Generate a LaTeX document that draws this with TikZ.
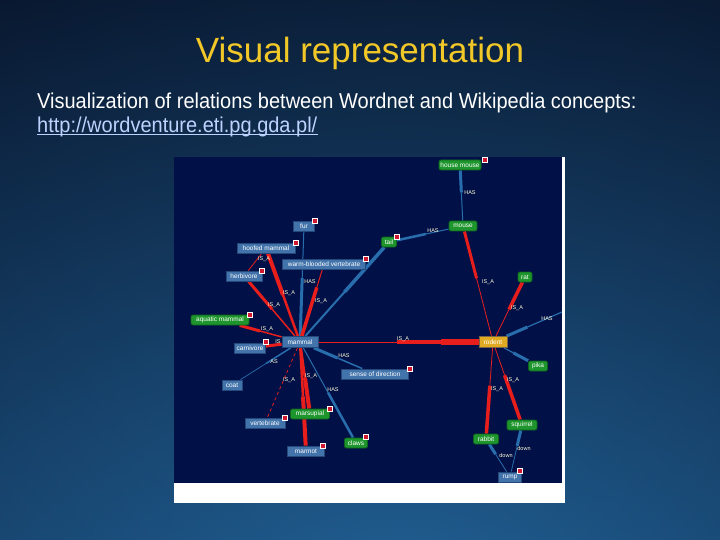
\documentclass[tikz,border=0pt]{standalone}
\usepackage{fontspec}
\setmainfont{Liberation Sans}
\newfontfamily\narrowsans[FakeStretch=0.93]{Liberation Sans}
\usetikzlibrary{calc}
\definecolor{bgtop}{RGB}{9,24,48}
\definecolor{bgbot}{RGB}{30,90,142}
\definecolor{bglight}{RGB}{34,100,152}
\definecolor{titlecol}{RGB}{242,200,40}
\definecolor{linkcol}{RGB}{190,210,255}
\definecolor{shotbg}{RGB}{2,16,72}
\definecolor{nblue}{RGB}{66,115,170}
\definecolor{nblueb}{RGB}{36,72,122}
\definecolor{ngreen}{RGB}{30,150,45}
\definecolor{ngreenb}{RGB}{14,100,28}
\definecolor{norange}{RGB}{224,170,34}
\definecolor{norangeb}{RGB}{120,100,70}
\definecolor{ered}{RGB}{232,30,28}
\definecolor{eblue}{RGB}{40,110,172}
\definecolor{badgered}{RGB}{208,24,48}
\definecolor{lblcol}{RGB}{255,255,215}
\pgfdeclarelayer{back}
\pgfdeclarelayer{edges}
\pgfsetlayers{back,edges,main}
\tikzset{
  bnode/.style={fill=nblue, draw=nblueb, line width=0.8pt, text=white,
    font=\fontsize{6.5}{7}\selectfont, minimum height=10pt, minimum width=#1,
    inner sep=0.5pt},
  gnode/.style={fill=ngreen, draw=ngreenb, line width=0.8pt, text=white,
    rounded corners=2pt, font=\fontsize{6.5}{7}\selectfont, minimum height=10pt,
    minimum width=#1, inner sep=0.5pt},
  onode/.style={fill=norange, draw=norangeb, line width=0.8pt, text=white,
    font=\fontsize{6.5}{7}\selectfont, minimum height=11pt, minimum width=#1,
    inner sep=0.5pt},
  badge/.style={fill=badgered, draw=white, line width=0.3pt, minimum size=5pt,
    inner sep=0pt},
  lbl/.style={text=lblcol, font=\fontsize{5.5}{6}\selectfont, inner sep=0pt},
}
\newcommand\stepedge[6]{%
  \draw[#6,line width=#4pt] (#1) -- ($(#1)!#3!(#2)$);
  \draw[#6,line width=#5pt] ($(#1)!#3!(#2)$) -- (#2);}
\begin{document}
\begin{tikzpicture}[x=1pt,y=-1pt]
\useasboundingbox (0,0) rectangle (720,540);
\begin{pgfonlayer}{back}
\shade[top color=bgtop, bottom color=bgbot] (0,0) rectangle (720,540);
\begin{scope}
\clip (0,0) rectangle (720,540);
\shade[inner color=bglight, outer color=bgtop, opacity=0.6] (400,640) circle (760);
\end{scope}
\fill[white] (174,157) rectangle (565,503);
\fill[shotbg] (174,157) rectangle (562,483);
\end{pgfonlayer}

% texts
\node[text=titlecol, font=\fontsize{35}{40}\selectfont] (title) at (360,53) {Visual representation};
\node[text=white, anchor=west, inner sep=0pt, font=\narrowsans\fontsize{21.5}{24}\selectfont] (sub) at (37,103) {Visualization of relations between Wordnet and Wikipedia concepts:};
\node[text=linkcol, anchor=west, inner sep=0pt, font=\narrowsans\fontsize{21.5}{24}\selectfont] (link) at (37,127) {http://wordventure.eti.pg.gda.pl/};
\draw[linkcol, line width=1pt] ([yshift=-2pt]link.base west) -- ([yshift=-2pt]link.base east);

% nodes
\node[gnode=42pt] (hm) at (460,165) {house mouse};
\node[gnode=28pt] (mouse) at (463,226) {mouse};
\node[gnode=15pt] (tailg) at (389,242) {tail};
\node[bnode=21pt] (fur) at (304,226) {fur};
\node[bnode=58pt] (hoofed) at (266,248) {hoofed mammal};
\node[bnode=83pt] (warm) at (324,264) {warm-blooded vertebrate};
\node[bnode=36pt] (herb) at (244,276) {herbivore};
\node[gnode=58pt] (aqua) at (220,320) {aquatic mammal};
\node[bnode=31pt] (carn) at (250,348) {carnivore};
\node[bnode=36pt, minimum height=11pt] (mammal) at (300,342) {mammal};
\node[onode=28pt] (rodent) at (493,342) {rodent};
\node[bnode=67pt] (sense) at (375,374) {sense of direction};
\node[gnode=19pt] (pika) at (538,366) {pika};
\node[gnode=14pt] (rat) at (525,277) {rat};
\node[bnode=20pt] (coat) at (232,385) {coat};
\node[gnode=39pt] (mars) at (310,414) {marsupial};
\node[bnode=40pt] (vert) at (265,423) {vertebrate};
\node[bnode=37pt] (marmot) at (306,451) {marmot};
\node[gnode=23pt] (claws) at (356,443) {claws};
\node[gnode=25pt] (rabbit) at (486,439) {rabbit};
\node[gnode=30pt] (squir) at (522,425) {squirrel};
\node[bnode=23pt] (rump) at (510,477) {rump};
\coordinate (ke) at (562,312);

% badges
\node[badge] (b1) at (485,160) {};
\node[badge] (b2) at (315,221) {};
\node[badge] (b3) at (296,243) {};
\node[badge] (b4) at (366,259) {};
\node[badge] (b5) at (262,271) {};
\node[badge] (b6) at (250,315) {};
\node[badge] (b7) at (266,342) {};
\node[badge] (b8) at (397,237) {};
\node[badge] (b9) at (410,369) {};
\node[badge] (b10) at (330,409) {};
\node[badge] (b11) at (285,418) {};
\node[badge] (b12) at (366,437) {};
\node[badge] (b13) at (323,446) {};
\node[badge] (b14) at (520,471) {};

% edges
\begin{pgfonlayer}{edges}
\stepedge{hm}{mouse}{0.45}{3}{1}{eblue}
\stepedge{mouse}{tailg}{0.5}{1}{2.5}{eblue}
\stepedge{tailg}{mammal}{0.5}{3.5}{2}{eblue}
\stepedge{mouse}{rodent}{0.45}{3}{0.8}{ered}
\stepedge{rat}{rodent}{0.5}{3.5}{0.8}{ered}
\stepedge{rodent}{ke}{0.5}{3}{1.2}{eblue}
\stepedge{rodent}{pika}{0.45}{1.2}{3}{eblue}
\stepedge{rodent}{rabbit}{0.45}{0.8}{3.5}{ered}
\stepedge{rodent}{squir}{0.4}{0.8}{3.5}{ered}
\stepedge{rabbit}{rump}{0.4}{3}{0.8}{eblue}
\stepedge{squir}{rump}{0.4}{3}{0.8}{eblue}
\draw[ered, line width=1pt] (mammal) -- ($(mammal)!0.5!(rodent)$);
\draw[ered, line width=3.5pt] ($(mammal)!0.5!(rodent)$) -- ($(mammal)!0.73!(rodent)$);
\draw[ered, line width=6pt] ($(mammal)!0.73!(rodent)$) -- (rodent);
\stepedge{fur}{mammal}{0.45}{1}{3}{eblue}
\stepedge{hoofed}{mammal}{0.5}{4}{2.5}{ered}
\draw[ered, line width=0.8pt] (hoofed) -- (herb);
\stepedge{herb}{mammal}{0.5}{3}{1.5}{ered}
\stepedge{warm}{mammal}{0.3}{1}{3.5}{ered}
\stepedge{aqua}{mammal}{0.5}{3}{1.5}{ered}
\draw[ered, line width=3pt] (carn) -- (mammal);
\stepedge{mammal}{coat}{0.5}{1.5}{0.7}{eblue}
\stepedge{mammal}{sense}{0.5}{3}{1.5}{eblue}
\stepedge{mammal}{mars}{0.5}{2.5}{4}{ered}
\stepedge{mammal}{marmot}{0.5}{2.5}{4}{ered}
\draw[ered, line width=0.8pt, dashed] (mammal) -- (vert);
\stepedge{mammal}{claws}{0.5}{1}{2.5}{eblue}
\end{pgfonlayer}

% labels
\node[lbl] (l1) at (470,193) {HAS};
\node[lbl] (l2) at (433,231) {HAS};
\node[lbl] (l3) at (264,259) {IS\_A};
\node[lbl] (l4) at (310,282) {HAS};
\node[lbl] (l5) at (289,293) {IS\_A};
\node[lbl] (l6) at (274,305) {IS\_A};
\node[lbl] (l7) at (321,301) {IS\_A};
\node[lbl] (l8) at (267,329) {IS\_A};
\node[lbl] (l9) at (278,342) {IS};
\node[lbl] (l10) at (344,356) {HAS};
\node[lbl] (l11) at (274,362) {AS};
\node[lbl] (l12) at (289,380) {IS\_A};
\node[lbl] (l13) at (311,376) {IS\_A};
\node[lbl] (l14) at (333,390) {HAS};
\node[lbl] (l15) at (403,339) {IS\_A};
\node[lbl] (l16) at (488,282) {IS\_A};
\node[lbl] (l17) at (517,308) {IS\_A};
\node[lbl] (l18) at (547,319) {HAS};
\node[lbl] (l19) at (513,380) {IS\_A};
\node[lbl] (l20) at (497,389) {IS\_A};
\node[lbl] (l21) at (506,456) {down};
\node[lbl] (l22) at (524,449) {down};
\end{tikzpicture}
\end{document}
